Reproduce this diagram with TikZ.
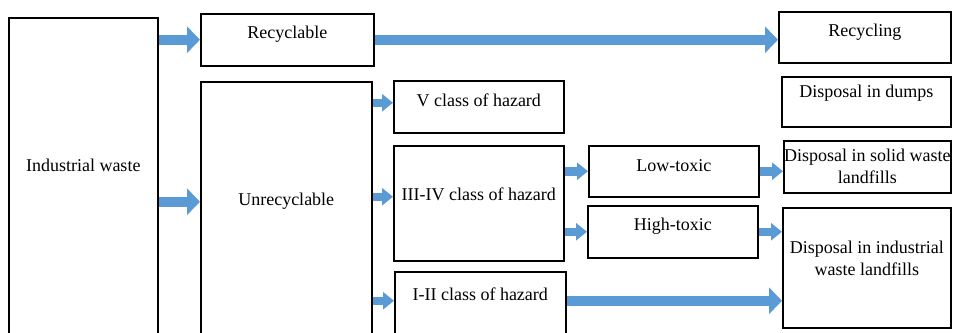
\documentclass[tikz,border=0pt]{standalone}
\usepackage{fontspec}
\setmainfont{Liberation Serif}
\usetikzlibrary{arrows.meta}
\definecolor{arrowblue}{HTML}{5B9BD5}

\begin{document}
\begin{tikzpicture}[x=1pt,y=-1pt]
% Default actions for each node
\tikzstyle{every node}=[font=\fontsize{18}{22}\selectfont];
\tikzstyle{box} = [draw, line width=1.5pt, rectangle, inner sep=0pt, anchor=north west, align=center]
\tikzstyle{bigarrow} = [draw=arrowblue, line width=10pt, -{Triangle[width=26pt,length=13pt]}]
\tikzstyle{smallarrow} = [draw=arrowblue, line width=8.5pt, -{Triangle[width=17pt,length=11pt]}]
% Page frame
\clip (0,0) rectangle (955,332);
% Left column
\node [box, minimum width=149pt, text height=154pt, text depth=186pt] (ind) at (8,17) {Industrial waste};
\node [box, minimum width=173pt, text height=25pt, text depth=27pt] (rec) at (200,13) {Recyclable};
\node [box, minimum width=171pt, text height=124pt, text depth=152pt] (unr) at (200,81) {Unrecyclable};
% Classes of hazard
\node [box, minimum width=170pt, text height=26pt, text depth=26pt] (cls5) at (393,80) {V class of hazard};
\node [box, minimum width=170pt, text height=55pt, text depth=60pt] (cls34) at (393,145) {III-IV class of hazard};
\node [box, minimum width=171pt, text height=29pt, text depth=57pt] (cls12) at (394,271) {I-II class of hazard};
% Toxicity
\node [box, minimum width=170pt, text height=26pt, text depth=25pt] (low) at (588,145) {Low-toxic};
\node [box, minimum width=170pt, text height=25pt, text depth=27pt] (high) at (587,205) {High-toxic};
% Right column
\node [box, minimum width=172pt, text height=25pt, text depth=26pt] (recg) at (778,11) {Recycling};
\node [box, minimum width=169pt, text height=21pt, text depth=29pt] (dumps) at (781,76) {Disposal in dumps};
\node [box, minimum width=167pt, minimum height=52pt] (solid) at (783,140) {Disposal in solid waste\\landfills};
\node [box, minimum width=168pt, text height=68pt, text depth=52pt] (indl) at (782,207) {Disposal in industrial\\waste landfills};
% Draw arrows
\draw [bigarrow] (ind.east |- rec.west) -- (rec.west);
\draw [bigarrow] (ind.east |- unr.base) ++(0,-4) -- ([yshift=4pt]unr.base west);
\draw [bigarrow] (rec.east) -- (recg.west |- rec.east);
\draw [smallarrow] ([yshift=4pt]unr.east |- cls5.west) -- ([yshift=4pt]cls5.west);
\draw [smallarrow] ([yshift=4pt]unr.east |- cls34.base) -- ([yshift=4pt]cls34.base west);
\draw [smallarrow] (unr.east |- cls12.base) -- (cls12.base west);
\draw [smallarrow] (cls34.east |- low.west) -- (low.west);
\draw [smallarrow] (cls34.east |- high.west) -- (high.west);
\draw [smallarrow] (low.east) -- (solid.west |- low.east);
\draw [smallarrow] (high.east) -- (indl.west |- high.east);
\draw [bigarrow] (cls12.base east) -- (indl.west |- cls12.base east);
\end{tikzpicture}
\end{document}
